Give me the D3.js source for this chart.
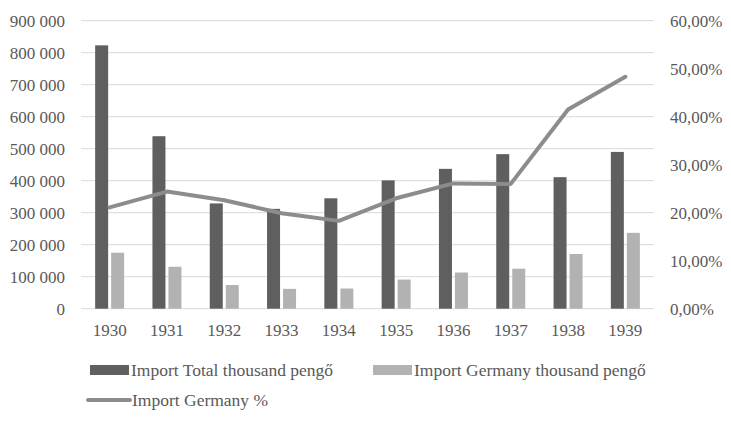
<!DOCTYPE html>
<html>
<head>
<meta charset="utf-8">
<script src="https://cdn.jsdelivr.net/npm/d3@7"></script>
<style>
  body { margin: 0; background: #fff; }
  svg, svg text { font-family: 'Liberation Serif', 'Times New Roman', serif; }
</style>
</head>
<body>
<svg id="chart" width="731" height="421" font-family="Liberation Serif"></svg>
<script>
// data
const years = ['1930', '1931', '1932', '1933', '1934', '1935', '1936', '1937', '1938', '1939']
const importTotal = [823000, 539000, 329000, 312000, 345000, 401000, 437000, 483000, 411000, 490000]
const importGermany = [175000, 131000, 74000, 62000, 63000, 91000, 113000, 125000, 171000, 237000]
const germanyShare = [0.211, 0.244, 0.226, 0.199, 0.183, 0.23, 0.261, 0.26, 0.415, 0.483]
const leftTicks = [0, 100000, 200000, 300000, 400000, 500000, 600000, 700000, 800000, 900000]
const rightTicks = [0, 0.1, 0.2, 0.3, 0.4, 0.5, 0.6]

const colors = { total: '#5f5f5f', germany: '#b2b2b2', line: '#8c8c8c', grid: '#d9d9d9', text: '#595959' }

const svg = d3.select('#chart')
const plotLeft = 81
const plotRight = 654
const plotTop = 20.7
const plotBottom = 308.7

const x = d3.scaleBand().domain(years).range([plotLeft, plotRight])
const yLeft = d3.scaleLinear().domain([0, 900000]).range([plotBottom, plotTop])
const yRight = d3.scaleLinear().domain([0, 0.6]).range([plotBottom, plotTop])

const fmtNum = d => d3.format(',')(d).replace(/,/g, ' ')
const fmtPct = d => d3.format('.2f')(d * 100).replace('.', ',') + '%'

// same text look for every label
const styleText = (sel, size = 17) => sel
  .attr('font-family', 'Liberation Serif')
  .attr('font-size', size)
  .attr('fill', colors.text)

// tidy up what d3.axis puts on its group
const cleanAxis = g => {
  g.attr('font-family', null).attr('font-size', null)
  g.select('.domain').remove()
}

// gridlines
svg.append('g')
  .selectAll('line')
  .data(leftTicks)
  .join('line')
  .attr('x1', plotLeft)
  .attr('x2', plotRight)
  .attr('y1', d => yLeft(d))
  .attr('y2', d => yLeft(d))
  .attr('stroke', colors.grid)
  .attr('stroke-width', 1)

// left axis
svg.append('g')
  .attr('transform', `translate(${plotLeft - 16}, 0)`)
  .call(d3.axisLeft(yLeft).tickValues(leftTicks).tickFormat(fmtNum).tickSize(0).tickPadding(0))
  .call(cleanAxis)
  .selectAll('text').attr('dy', '0.35em').call(styleText)

// right axis
svg.append('g')
  .attr('transform', `translate(${plotRight + 16}, 0)`)
  .call(d3.axisRight(yRight).tickValues(rightTicks).tickFormat(fmtPct).tickSize(0).tickPadding(0))
  .call(cleanAxis)
  .selectAll('text').attr('dy', '0.35em').call(styleText)

// bottom axis
svg.append('g')
  .attr('transform', `translate(0, ${plotBottom})`)
  .call(d3.axisBottom(x).tickSize(0).tickPadding(0))
  .call(cleanAxis)
  .selectAll('text').attr('dy', 0).attr('y', 27).call(styleText)

// bars
const barW = 13
const gap = 3
svg.append('g')
  .selectAll('rect')
  .data(years)
  .join('rect')
  .attr('x', d => x(d) + x.bandwidth() / 2 - barW - gap / 2)
  .attr('y', (d, i) => yLeft(importTotal[i]))
  .attr('width', barW)
  .attr('height', (d, i) => plotBottom - yLeft(importTotal[i]))
  .attr('fill', colors.total)

svg.append('g')
  .selectAll('rect')
  .data(years)
  .join('rect')
  .attr('x', d => x(d) + x.bandwidth() / 2 + gap / 2)
  .attr('y', (d, i) => yLeft(importGermany[i]))
  .attr('width', barW)
  .attr('height', (d, i) => plotBottom - yLeft(importGermany[i]))
  .attr('fill', colors.germany)

// share line
const line = d3.line()
  .x((d, i) => x(years[i]) + x.bandwidth() / 2)
  .y(d => yRight(d))

svg.append('path')
  .datum(germanyShare)
  .attr('d', line)
  .attr('fill', 'none')
  .attr('stroke', colors.line)
  .attr('stroke-width', 4)
  .attr('stroke-linejoin', 'round')
  .attr('stroke-linecap', 'round')

// legend
const legend = svg.append('g').attr('class', 'legend')
const items = [
  { label: 'Import Total thousand pengő', type: 'rect', color: colors.total, x: 90, y: 370 },
  { label: 'Import Germany thousand pengő', type: 'rect', color: colors.germany, x: 373, y: 370 },
  { label: 'Import Germany %', type: 'line', color: colors.line, x: 88, y: 400 }
]
items.forEach(it => {
  const g = legend.append('g').attr('transform', `translate(${it.x}, ${it.y})`)
  if (it.type === 'rect') {
    g.append('rect')
      .attr('x', 0)
      .attr('y', -5)
      .attr('width', 39)
      .attr('height', 10)
      .attr('fill', it.color)
  } else {
    g.append('line')
      .attr('x1', 0)
      .attr('x2', 42)
      .attr('y1', 0)
      .attr('y2', 0)
      .attr('stroke', it.color)
      .attr('stroke-width', 4)
      .attr('stroke-linecap', 'round')
  }
  g.append('text')
    .attr('x', it.type === 'rect' ? 41 : 44)
    .attr('y', 0)
    .attr('dy', '0.32em')
    .text(it.label)
    .call(styleText, 17.5)
})
</script>
</body>
</html>
